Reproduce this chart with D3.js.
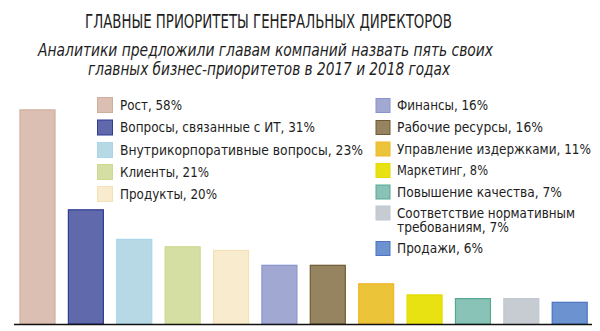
<!DOCTYPE html>
<html><head><meta charset="utf-8">
<script src="https://cdn.jsdelivr.net/npm/d3@7"></script>
<style>
html,body{margin:0;padding:0;background:#fff;}
svg{display:block;}
</style></head>
<body>
<svg id="c" width="600" height="331"></svg>
<script>
const title = "ГЛАВНЫЕ ПРИОРИТЕТЫ ГЕНЕРАЛЬНЫХ ДИРЕКТОРОВ";
const subtitle = ["Аналитики предложили главам компаний назвать пять своих", "главных бизнес-приоритетов в 2017 и 2018 годах"];
const categories = ["Рост", "Вопросы, связанные с ИТ", "Внутрикорпоративные вопросы", "Клиенты", "Продукты", "Финансы", "Рабочие ресурсы", "Управление издержками", "Маркетинг", "Повышение качества", "Соответствие нормативным требованиям", "Продажи"];
const values = [58, 31, 23, 21, 20, 16, 16, 11, 8, 7, 7, 6];
const legendLines = [["Рост, 58%"], ["Вопросы, связанные с ИТ, 31%"], ["Внутрикорпоративные вопросы, 23%"], ["Клиенты, 21%"], ["Продукты, 20%"], ["Финансы, 16%"], ["Рабочие ресурсы, 16%"], ["Управление издержками, 11%"], ["Маркетинг, 8%"], ["Повышение качества, 7%"], ["Соответствие нормативным", "требованиям, 7%"], ["Продажи, 6%"]];
const fills = ["#dbbfb2", "#6069ab", "#b6d9e5", "#d6dfa3", "#f9ecce", "#a1a9d2", "#968461", "#ecc43a", "#e8e212", "#89c2b6", "#c7ccd3", "#6c93cf"];
const strokes = ["#d0ad9e", "#2f3b94", "#a9d6ea", "#cdd98e", "#f3e2b6", "#8a93d0", "#6e5a35", "#f0b52a", "#e5da00", "#56a893", "#c0c8d2", "#4d73c2"];

const svg = d3.select("#c");
const font = "'Liberation Sans Narrow','DejaVu Sans Condensed','Liberation Sans',sans-serif";

// Title
svg.append("text").attr("x", 85).attr("y", 27.5).text(title)
  .attr("font-family", font).attr("font-size", 19.5).attr("fill", "#1e1e1e")
  .attr("textLength", 367).attr("lengthAdjust", "spacingAndGlyphs");
const subX = [38, 88], subW = [455, 362], subY = [55.5, 74.5];
subtitle.forEach((s, i) => {
  svg.append("text").attr("x", subX[i]).attr("y", subY[i]).text(s)
    .attr("font-family", font).attr("font-style", "italic").attr("font-size", 18.5).attr("fill", "#1e1e1e")
    .attr("textLength", subW[i]).attr("lengthAdjust", "spacingAndGlyphs");
});

// Scales
const x = d3.scaleBand().domain(categories).range([19.5, 587.7]).paddingInner(0.256).paddingOuter(0);
const y = d3.scaleLinear().domain([0, 60]).range([324, 102]);

svg.append("g").selectAll("rect").data(values).join("rect")
  .attr("x", (d, i) => x(categories[i]) + 0.5)
  .attr("y", d => y(d) + 0.5)
  .attr("width", x.bandwidth() - 1)
  .attr("height", d => y(0) - y(d) - 0.5)
  .attr("fill", (d, i) => fills[i])
  .attr("stroke", (d, i) => strokes[i])
  .attr("stroke-width", 1.2);

// Baseline axis
const xAxisLine = d3.scaleLinear().domain([0, 1]).range([14, 592]);
svg.append("line").attr("x1", xAxisLine(0)).attr("x2", xAxisLine(1))
  .attr("y1", y(0) + 0.5).attr("y2", y(0) + 0.5)
  .attr("stroke", "#111").attr("stroke-width", 1.6);

// Legend
const leftSq = [97, 119.5, 142, 164, 186];
const rightSq = [98, 120, 141.5, 163, 184.5, 205.5, 241];
const leftW = [62, 195, 243, 89, 97];
const rightW = [[91], [146], [194], [91], [165], [178, 112], [86]];
legendLines.forEach((lines, i) => {
  const left = i < 5;
  const j = left ? i : i - 5;
  const sqX = left ? 97 : 375.5;
  const sqY = left ? leftSq[j] : rightSq[j];
  const sz = left ? 16 : 15;
  svg.append("rect").attr("x", sqX + 0.5).attr("y", sqY + 0.5)
    .attr("width", sz - 1).attr("height", sz - 1)
    .attr("fill", fills[i]).attr("stroke", strokes[i]).attr("stroke-width", 1);
  const tx = left ? 120 : 397;
  lines.forEach((ln, k) => {
    const w = left ? leftW[j] : rightW[j][k];
    svg.append("text").attr("x", tx).attr("y", sqY + sz / 2 + 4.7 + k * 14.5).text(ln)
      .attr("font-family", font).attr("font-size", 14).attr("fill", "#1e1e1e")
      .attr("textLength", w).attr("lengthAdjust", "spacingAndGlyphs");
  });
});
</script>
</body></html>
